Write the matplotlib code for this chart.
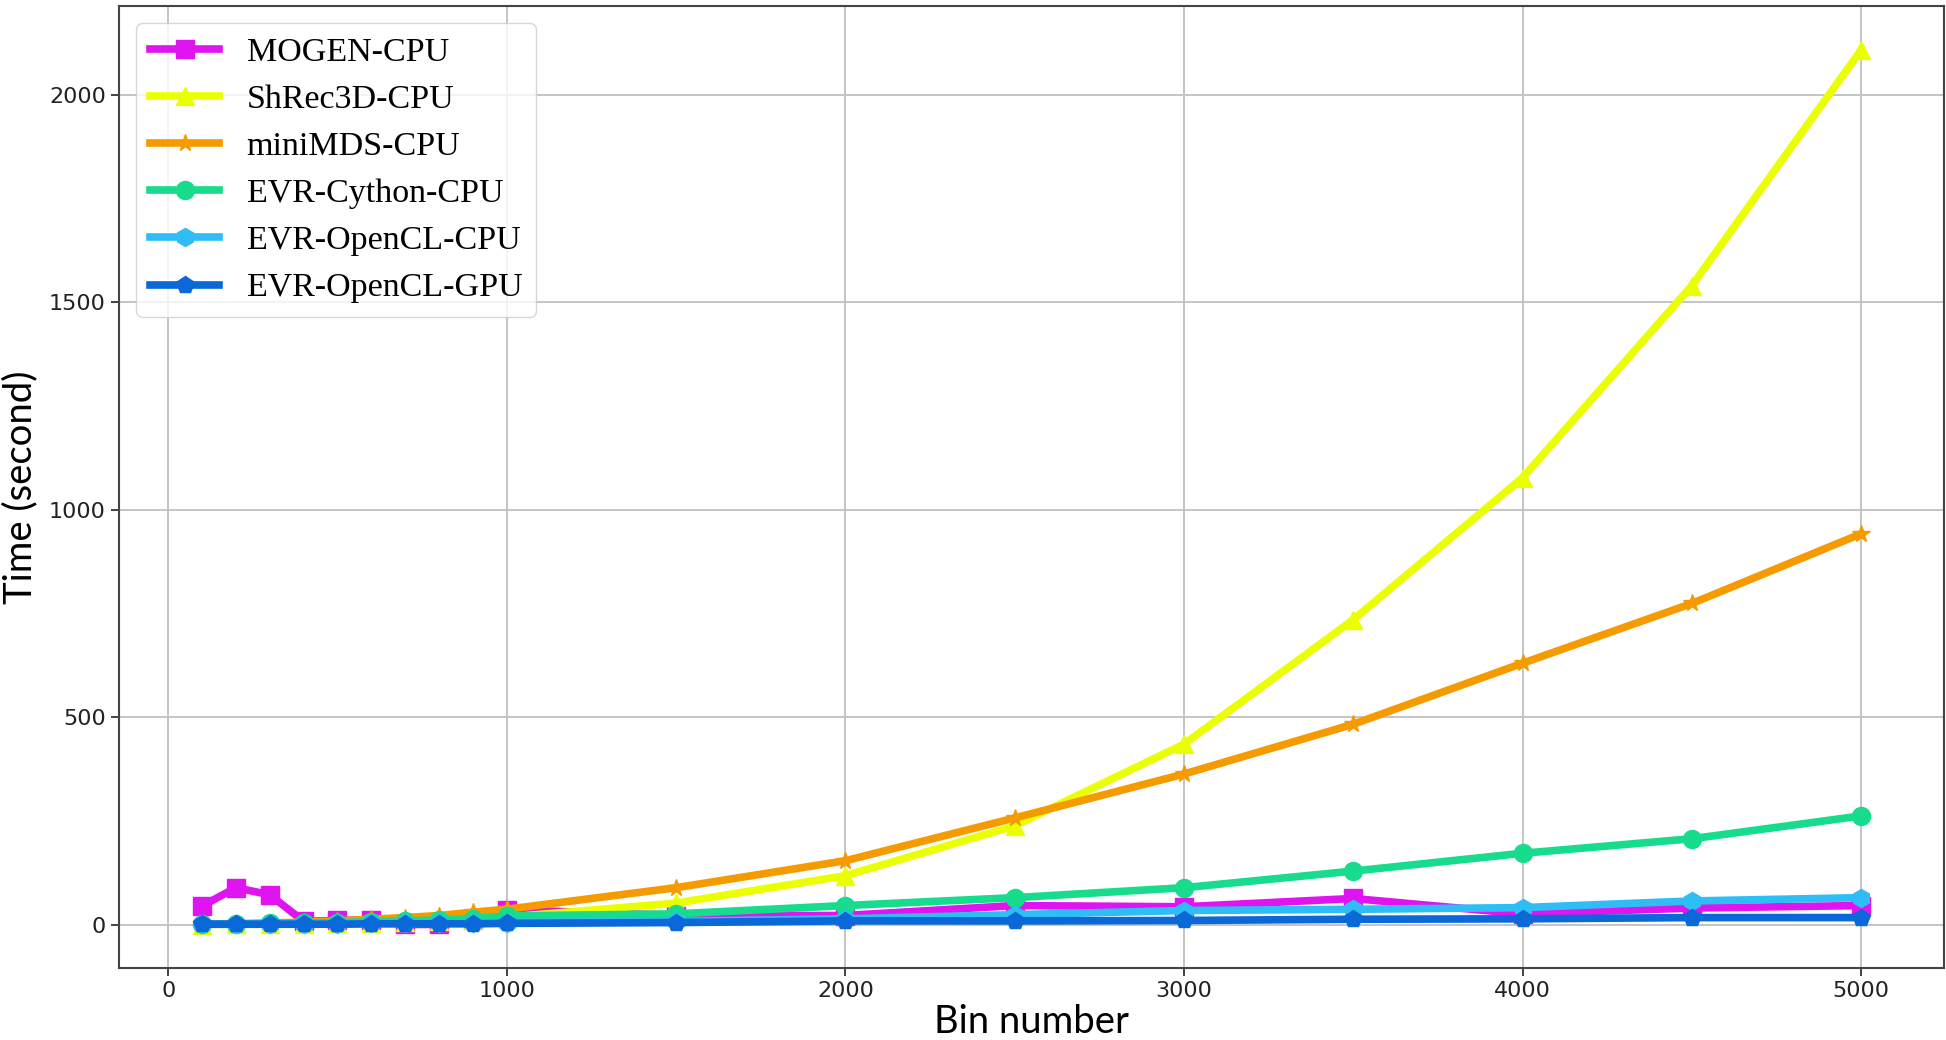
import matplotlib
matplotlib.use("Agg")
import matplotlib.pyplot as plt

bins = [100, 200, 300, 400, 500, 600, 700, 800, 900, 1000,
        1500, 2000, 2500, 3000, 3500, 4000, 4500, 5000]

mogen_cpu = [45, 89, 72, 8, 10, 12, 0.5, 0.5, 10, 36,
             22, 22, 46, 43, 63, 26, 40, 46]
shrec3d_cpu = [0.3, 0.5, 1, 2, 3, 4, 6, 8, 11, 18,
               52, 118, 238, 435, 735, 1077, 1540, 2108]
minimds_cpu = [1, 2, 4, 6, 9, 13, 17, 22, 30, 37,
               89, 154, 257, 363, 483, 630, 774, 942]
evr_cython_cpu = [1, 2, 3, 4, 5, 7, 9, 11, 14, 21,
                  26, 46, 65, 89, 129, 172, 207, 262]
evr_opencl_cpu = [1, 1, 2, 2, 2, 3, 3, 4, 4, 5,
                  8, 14, 24, 34, 37, 41, 57, 65]
evr_opencl_gpu = [1, 1, 1, 1, 1, 2, 2, 2, 2, 3,
                  5, 9, 9, 10, 13, 14, 17, 17]

series_names = ["MOGEN-CPU", "ShRec3D-CPU", "miniMDS-CPU",
                "EVR-Cython-CPU", "EVR-OpenCL-CPU", "EVR-OpenCL-GPU"]
series_values = [mogen_cpu, shrec3d_cpu, minimds_cpu,
                 evr_cython_cpu, evr_opencl_cpu, evr_opencl_gpu]
colors = ["#e014f0", "#eaff00", "#f59b00", "#17dc8d", "#2fbdf5", "#0a68d8"]
markers = ["s", "^", "*", "o", "h", "p"]

x_ticks = [0, 1000, 2000, 3000, 4000, 5000]
y_ticks = [0, 500, 1000, 1500, 2000]

fig = plt.figure(figsize=(19.46, 10.40), dpi=100)
ax = fig.add_axes([0.0612, 0.069, 0.9378, 0.925])

for name, vals, c, m in zip(series_names, series_values, colors, markers):
    ax.plot(bins, vals, color=c, marker=m, markersize=13, linewidth=5.5,
            label=name)

ax.set_xticks(x_ticks)
ax.set_yticks(y_ticks)
ax.grid(True, color="#c4c4c4", linewidth=1.4)
ax.set_axisbelow(True)
ax.tick_params(axis="both", labelsize=16, length=6, width=1.2,
               colors="#222222")
for lab in ax.get_xticklabels() + ax.get_yticklabels():
    lab.set_fontfamily("DejaVu Sans")
for sp in ax.spines.values():
    sp.set_color("#444444")
    sp.set_linewidth(1.5)

ax.set_xlabel("Bin number", fontsize=27.5, family="Lato", labelpad=2)
ax.set_ylabel("Time (second)", fontsize=27.5, family="Lato", labelpad=8)

leg = ax.legend(loc="upper left", prop={"family": "Liberation Serif", "size": 24.5},
                handlelength=2.05, labelspacing=0.48, numpoints=1,
                framealpha=0.8, edgecolor="#cccccc", fancybox=True)

fig.savefig("out.png", dpi=100)
